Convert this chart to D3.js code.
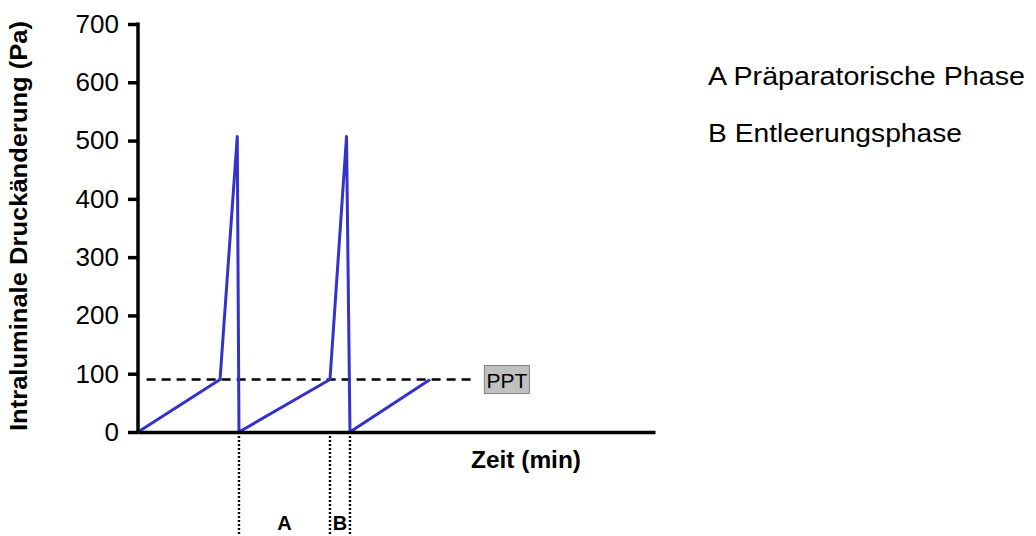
<!DOCTYPE html>
<html>
<head>
<meta charset="utf-8">
<script src="https://cdn.jsdelivr.net/npm/d3@7"></script>
<style>
  body { margin: 0; background: #fff; }
  svg { display: block; font-family: "Liberation Sans", Arial, sans-serif; }
</style>
</head>
<body>
<svg id="chart" width="1036" height="536"></svg>
<script>
// Data
const timeValues = [0, 4.76, 5.76, 5.86, 11.14, 12.1, 12.3, 16.95];
const pressureValues = [0, 90, 507, 0, 90, 507, 0, 90];
const yTicks = [0, 100, 200, 300, 400, 500, 600, 700];
const threshold = 90;
const thresholdLabel = "PPT";
const phaseMarkers = [5.86, 11.14, 12.3];
const phaseLabels = [{ name: "A", from: 5.86, to: 11.14 }, { name: "B", from: 11.14, to: 12.3 }];
const legendItems = ["A Präparatorische Phase", "B Entleerungsphase"];
const xTitle = "Zeit (min)";
const yTitle = "Intraluminale Druckänderung (Pa)";

const svg = d3.select("#chart");
const x = d3.scaleLinear().domain([0, 30]).range([138, 655]);
const y = d3.scaleLinear().domain([0, 700]).range([432, 24]);

// dotted phase lines
svg.selectAll("line.phase").data(phaseMarkers).enter().append("line")
  .attr("x1", d => x(d)).attr("x2", d => x(d))
  .attr("y1", y(0)).attr("y2", 536)
  .style("stroke", "#000").style("stroke-width", "2.4px").style("stroke-dasharray", "2,2");

// threshold dashed line
svg.append("line")
  .attr("x1", x(0.5)).attr("x2", x(19.4))
  .attr("y1", y(threshold)).attr("y2", y(threshold))
  .style("stroke", "#000").style("stroke-width", "2.5px").style("stroke-dasharray", "9,6");

// PPT box
const boxX = x(20.1), boxW = 45, boxH = 28;
svg.append("rect").attr("x", boxX).attr("y", y(threshold) - 14).attr("width", boxW).attr("height", boxH)
  .style("fill", "#c0c0c0").style("stroke", "#808080").style("stroke-width", "1px");
svg.append("text").attr("x", boxX + boxW / 2).attr("y", y(threshold) + 8)
  .attr("text-anchor", "middle").attr("font-size", 21).attr("fill", "#000").text(thresholdLabel);

// pressure line
const pts = timeValues.map((t, i) => [t, pressureValues[i]]);
svg.append("path").datum(pts)
  .attr("d", d3.line().x(d => x(d[0])).y(d => y(d[1])))
  .style("fill", "none").style("stroke", "#3333CC").style("stroke-width", "3px").style("stroke-linejoin", "round");

// axes
const yAxis = d3.axisLeft(y).tickValues(yTicks).tickSize(10).tickPadding(9).tickFormat(d3.format("d"));
const gy = svg.append("g").attr("transform", `translate(${x(0)},0)`).call(yAxis);
gy.select(".domain").attr("d", `M0,${y(700) - 1.5}V${y(0) + 1.5}`).style("stroke", "#000").style("stroke-width", "3.5px");
gy.selectAll(".tick line").style("stroke", "#000").style("stroke-width", "3.5px");
gy.selectAll(".tick text").attr("font-size", 26).attr("font-family", "Liberation Sans, Arial, sans-serif").attr("fill", "#000");

const xAxis = d3.axisBottom(x).tickValues([]).tickSizeOuter(0);
const gx = svg.append("g").attr("transform", `translate(0,${y(0)})`).call(xAxis);
gx.select(".domain").style("stroke", "#000").style("stroke-width", "3.5px");

// titles
svg.append("text").attr("transform", "translate(27,226) rotate(-90)")
  .attr("text-anchor", "middle").attr("font-size", 24).attr("font-weight", "bold").attr("textLength", 410).attr("lengthAdjust", "spacingAndGlyphs").text(yTitle);
svg.append("text").attr("x", 471).attr("y", 468)
  .attr("font-size", 23).attr("font-weight", "bold").attr("textLength", 110).attr("lengthAdjust", "spacingAndGlyphs").text(xTitle);

// phase labels
svg.selectAll("text.pl").data(phaseLabels).enter().append("text")
  .attr("x", d => (x(d.from) + x(d.to)) / 2).attr("y", 530)
  .attr("text-anchor", "middle").attr("font-size", 20).attr("font-weight", "bold").text(d => d.name);

// legend
const legendWidths = [317, 254];
svg.selectAll("text.lg").data(legendItems).enter().append("text")
  .attr("x", 708).attr("y", (d, i) => 85 + i * 57)
  .attr("font-size", 26).attr("textLength", (d, i) => legendWidths[i]).attr("lengthAdjust", "spacingAndGlyphs")
  .text(d => d);
</script>
</body>
</html>
